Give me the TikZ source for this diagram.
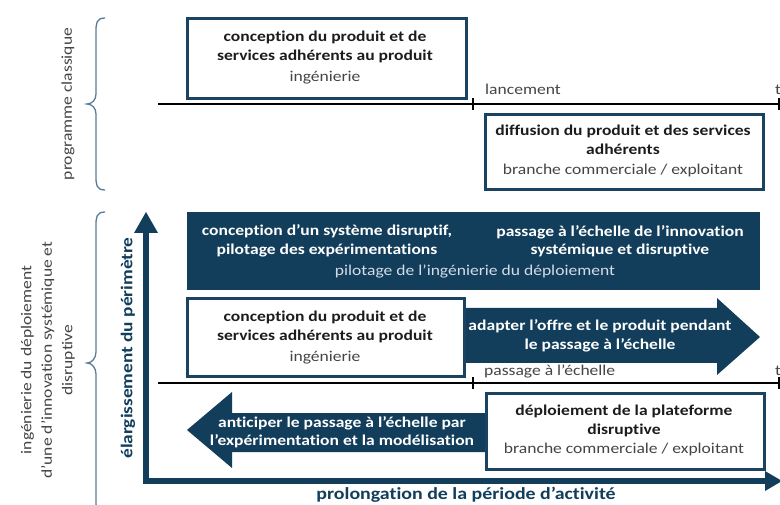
\documentclass[tikz,border=0pt]{standalone}
\usepackage{fontspec}
\setmainfont{Carlito}[FakeStretch=1.17,Ligatures=NoCommon]
\definecolor{navy}{HTML}{123E5C}
\definecolor{navyline}{HTML}{1A4261}
\definecolor{bracec}{HTML}{5A7D96}
\definecolor{txt}{HTML}{1C1C1C}
\definecolor{subtxt}{HTML}{454545}
\definecolor{lighttxt}{HTML}{D3DCE4}
\begin{document}
\begin{tikzpicture}[x=1pt,y=-1pt,
  wbox/.style={draw=navyline,line width=2.6pt,fill=white},
  btxt/.style={font=\fontsize{15}{19}\selectfont\bfseries,text=txt,align=center,inner sep=0pt},
  stxt/.style={font=\fontsize{15}{19}\selectfont,text=subtxt,align=center,inner sep=0pt},
  wtxt/.style={font=\fontsize{15}{18.5}\selectfont\bfseries,text=white,align=center,inner sep=0pt},
  sidetxt/.style={font=\fontsize{15}{20.5}\selectfont,text=subtxt,align=center,inner sep=0pt,rotate=90},
  axtxt/.style={font=\fontsize{16.5}{18}\selectfont\bfseries,text=navy,inner sep=0pt},
  tline/.style={line width=2.6pt,black},
  brc/.style={draw=bracec,line width=1.3pt}]
\useasboundingbox (0,0) rectangle (780,505);
\clip (0,0) rectangle (780,505);
\fill[white] (0,0) rectangle (780,505);

% braces
\draw[brc] (105,18) .. controls (96,18) and (96,24) .. (96,32) -- (96,94)
  .. controls (96,100) and (92,104) .. (87,104)
  .. controls (92,104) and (96,108) .. (96,114) -- (96,176)
  .. controls (96,184) and (96,190) .. (105,190);
\draw[brc] (105,212) .. controls (96,212) and (96,218) .. (96,226) -- (96,352)
  .. controls (96,358) and (92,363) .. (87,363)
  .. controls (92,363) and (96,368) .. (96,374) -- (96,500)
  .. controls (96,508) and (96,514) .. (105,514);

\node[sidetxt] (pc) at (68,104) {programme classique};
\node[sidetxt] (ing) at (48,360) {ingénierie du déploiement\\d’une d’innovation systémique et\\disruptive};

% top timeline
\coordinate (t1a) at (158,104);
\coordinate (t1b) at (790,104);
\draw[tline] (t1a) -- (t1b);
\draw[line width=2pt] (473,98) -- (473,110);
\draw[line width=2pt] (779,98) -- (779,110);
\node[stxt,anchor=base west] (lanc) at (485,95) {lancement};
\node[stxt,anchor=base west] (t1) at (775,95) {t};

% box 1
\node[wbox,minimum width=279pt,minimum height=80pt,anchor=north west,inner sep=0pt] (b1) at (186,17) {};
\node[btxt] (b1a) at (325,47) {conception du produit et de\\services adhérents au produit};
\node[stxt] (b1b) at (325,78) {ingénierie};

% box 2
\node[wbox,minimum width=278pt,minimum height=75pt,anchor=north west,inner sep=0pt] (b2) at (484,113) {};
\node[btxt] (b2a) at (623,140) {diffusion du produit et des services\\adhérents};
\node[stxt] (b2b) at (623,171) {branche commerciale / exploitant};

% dark box
\node[fill=navy,minimum width=573pt,minimum height=78pt,anchor=north west,inner sep=0pt] (db) at (187,212) {};
\node[wtxt] (dba) at (327,241) {conception d’un système disruptif,\\pilotage des expérimentations};
\node[wtxt] (dbb) at (620,241) {passage à l’échelle de l’innovation\\systémique et disruptive};
\node[stxt,text=lighttxt] (dbc) at (475,272) {pilotage de l’ingénierie du déploiement};

% right block arrow
\fill[navy] (455,308) -- (717,308) -- (717,298) -- (760,337) -- (717,375) -- (717,363) -- (455,363) -- cycle;
\node[wtxt] (ra) at (600,336) {adapter l’offre et le produit pendant\\le passage à l’échelle};

% box 3
\node[wbox,minimum width=277pt,minimum height=78pt,anchor=north west,inner sep=0pt] (b3) at (186,297) {};
\node[btxt] (b3a) at (325,327) {conception du produit et de\\services adhérents au produit};
\node[stxt] (b3b) at (325,358) {ingénierie};

% lower timeline
\coordinate (t2a) at (158,383);
\coordinate (t2b) at (790,383);
\draw[tline] (t2a) -- (t2b);
\draw[line width=2pt] (473,377) -- (473,389);
\draw[line width=2pt] (779,377) -- (779,389);
\node[stxt,anchor=base west] (pe) at (484,375) {passage à l’échelle};
\node[stxt,anchor=base west] (t2) at (775,375) {t};

% left block arrow
\fill[navy] (495,413) -- (232,413) -- (232,392) -- (187,430) -- (232,468) -- (232,452) -- (495,452) -- cycle;
\node[wtxt] (la) at (342,432) {anticiper le passage à l’échelle par\\l’expérimentation et la modélisation};

% box 4
\node[wbox,minimum width=278pt,minimum height=76pt,anchor=north west,inner sep=0pt] (b4) at (485,392) {};
\node[btxt] (b4a) at (624,421) {déploiement de la plateforme\\disruptive};
\node[stxt] (b4b) at (624,450) {branche commerciale / exploitant};

% axes
\coordinate (ax0) at (146,481);
\coordinate (axy) at (146,230);
\coordinate (axx) at (767,481);
\draw[navy,line width=6pt,line join=miter] (axy) -- (ax0) -- (axx);
\fill[navy] (134,233) -- (146,212) -- (158,233) -- cycle;
\fill[navy] (765,471) -- (782,481) -- (765,491) -- cycle;
\node[axtxt,rotate=90] (el) at (128,348) {élargissement du périmètre};
\node[axtxt,font=\fontsize{17}{18}\selectfont\bfseries] (pr) at (466,495) {prolongation de la période d’activité};
\end{tikzpicture}
\end{document}
